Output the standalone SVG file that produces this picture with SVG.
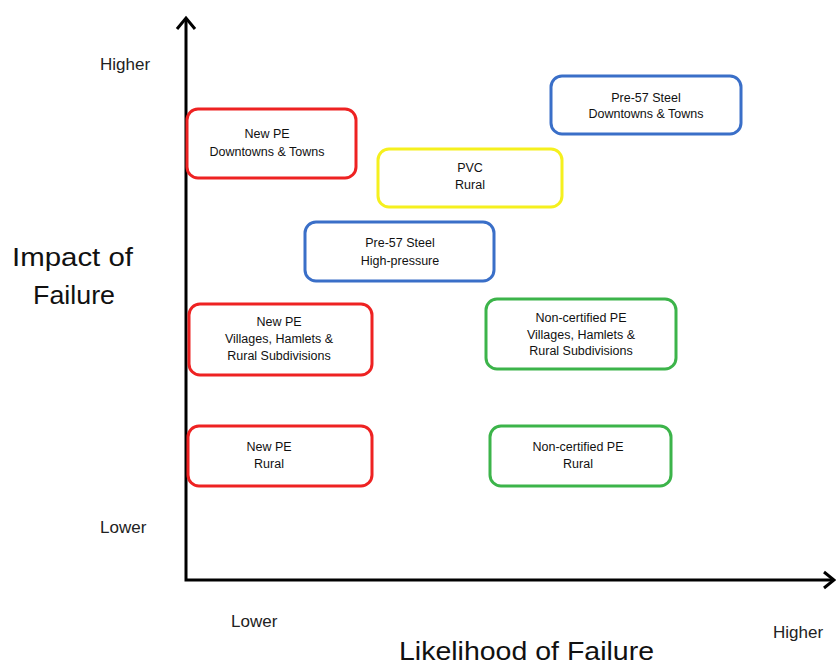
<svg xmlns="http://www.w3.org/2000/svg" width="836" height="667" viewBox="0 0 836 667">
<style>
.box{fill:#fff;stroke-width:3}
.red{stroke:#ee2222}
.blue{stroke:#3a6fc8}
.yel{stroke:#f5f01e}
.grn{stroke:#3cb44a}
.t{font-family:"Liberation Sans",Arial,sans-serif;font-size:12.5px;fill:#111;text-anchor:middle}
.lab{font-family:"Liberation Sans",Arial,sans-serif;font-size:17px;fill:#222}
.big{font-family:"Liberation Sans",Arial,sans-serif;font-size:26px;fill:#111}
.ax{stroke:#000;stroke-width:3;fill:none}
</style>
<rect width="836" height="667" fill="#fff"/>
<g id="axes">
<path class="ax" d="M186,18 V580 H834"/>
<path class="ax" d="M177,29 L186,18 L195,29" stroke-width="2.5"/>
<path class="ax" d="M824,572 L834,580 L824,588" stroke-width="2.5"/>
</g>
<g id="labels">
<text class="lab" x="100" y="70">Higher</text>
<text class="lab" x="100" y="533">Lower</text>
<text class="lab" x="231" y="627">Lower</text>
<text class="lab" x="773" y="638">Higher</text>
<text class="big" x="12" y="266" textLength="121" lengthAdjust="spacingAndGlyphs">Impact of</text>
<text class="big" x="33" y="304" textLength="82" lengthAdjust="spacingAndGlyphs">Failure</text>
<text class="big" x="399" y="660" textLength="255" lengthAdjust="spacingAndGlyphs">Likelihood of Failure</text>
</g>
<g id="node-newpe-downtowns">
<rect class="box red" x="187" y="109" width="169" height="69" rx="11"/>
<text class="t" x="267" y="138">New PE</text>
<text class="t" x="267" y="156">Downtowns &amp; Towns</text>
</g>
<g id="node-pre57-downtowns">
<rect class="box blue" x="551" y="76" width="190" height="58" rx="11"/>
<text class="t" x="646" y="102">Pre-57 Steel</text>
<text class="t" x="646" y="118">Downtowns &amp; Towns</text>
</g>
<g id="node-pvc-rural">
<rect class="box yel" x="378" y="149" width="184" height="58" rx="11"/>
<text class="t" x="470" y="172">PVC</text>
<text class="t" x="470" y="189">Rural</text>
</g>
<g id="node-pre57-hp">
<rect class="box blue" x="305" y="222" width="189" height="59" rx="11"/>
<text class="t" x="400" y="247">Pre-57 Steel</text>
<text class="t" x="400" y="265">High-pressure</text>
</g>
<g id="node-newpe-villages">
<rect class="box red" x="189" y="304" width="183" height="71" rx="11"/>
<text class="t" x="279" y="326">New PE</text>
<text class="t" x="279" y="343">Villages, Hamlets &amp;</text>
<text class="t" x="279" y="360">Rural Subdivisions</text>
</g>
<g id="node-noncert-villages">
<rect class="box grn" x="486" y="299" width="190" height="70" rx="11"/>
<text class="t" x="581" y="322">Non-certified PE</text>
<text class="t" x="581" y="339">Villages, Hamlets &amp;</text>
<text class="t" x="581" y="355">Rural Subdivisions</text>
</g>
<g id="node-newpe-rural">
<rect class="box red" x="188" y="426" width="184" height="60" rx="11"/>
<text class="t" x="269" y="451">New PE</text>
<text class="t" x="269" y="468">Rural</text>
</g>
<g id="node-noncert-rural">
<rect class="box grn" x="490" y="426" width="181" height="60" rx="11"/>
<text class="t" x="578" y="451">Non-certified PE</text>
<text class="t" x="578" y="468">Rural</text>
</g>
<g id="connectors"></g>
</svg>
